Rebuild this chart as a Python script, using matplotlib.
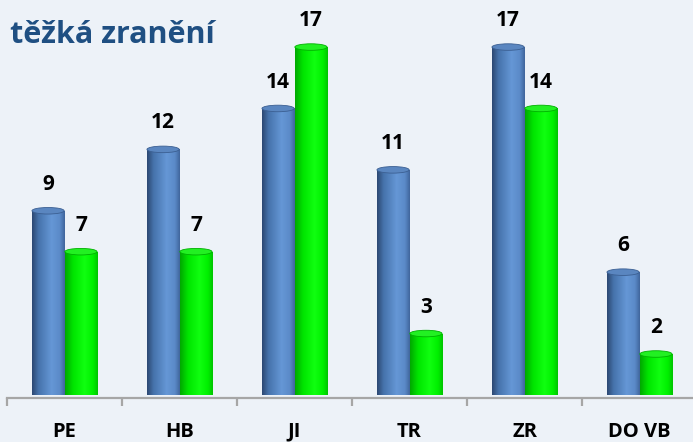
import numpy as np
import matplotlib.pyplot as plt
from matplotlib.patches import Ellipse
from matplotlib.colors import LinearSegmentedColormap

# data
categories = ['PE', 'HB', 'JI', 'TR', 'ZR', 'DO VB']
blue_values = [9, 12, 14, 11, 17, 6]
green_values = [7, 7, 17, 3, 14, 2]
title = 'těžká zranění'

plt.rcParams['font.family'] = ['Open Sans', 'DejaVu Sans']

bg = '#edf2f8'
blue_cmap = LinearSegmentedColormap.from_list(
    'cyl_blue', [(0, '#2c4872'), (0.2, '#4673ac'), (0.6, '#6597d6'), (0.85, '#5b8ac8'), (1, '#40669c')])
green_cmap = LinearSegmentedColormap.from_list(
    'cyl_green', [(0, '#00a800'), (0.25, '#00e600'), (0.6, '#10ff10'), (0.85, '#00f000'), (1, '#00c400')])

fig = plt.figure(figsize=(6.93, 4.42), dpi=100)
fig.patch.set_facecolor(bg)
ax = fig.add_axes([7 / 693, 44 / 442, 690 / 693, 398 / 442])
ax.set_facecolor('none')

x = np.arange(len(categories))
w = 0.28
off = 0.143
cap_h = 0.32  # height of the cylinder top ellipse (data units)


def cylinders(xpos, vals, cmap, cap_color, edge):
    bars = ax.bar(xpos, vals, w, color=cmap(0.6), edgecolor='none', zorder=2)
    grad = np.linspace(0, 1, 128).reshape(1, -1)
    for b in bars:
        x0, h = b.get_x(), b.get_height()
        im = ax.imshow(grad, cmap=cmap, extent=(x0, x0 + w, 0, h),
                       aspect='auto', origin='lower', zorder=2.5)
        im.set_clip_path(b)
        ax.add_patch(Ellipse((x0 + w / 2, h), w, cap_h, facecolor=cap_color,
                             edgecolor=edge, lw=0.6, zorder=3))
    for xi, v in zip(xpos, vals):
        ax.annotate(str(v), (xi, v), xytext=(0, 19), textcoords='offset points',
                    ha='center', va='center', fontsize=15, fontweight='bold', color='black')


cylinders(x - off, blue_values, blue_cmap, '#5a86c0', '#3b5f92')
cylinders(x + off, green_values, green_cmap, '#22f022', '#00b000')

ax.set_xlim(-0.5, 5.5)
ax.set_ylim(-0.15, 19.3)

for s in ['top', 'right', 'left']:
    ax.spines[s].set_visible(False)
ax.spines['bottom'].set_color('#a6a6a6')
ax.spines['bottom'].set_linewidth(1.6)

ax.set_yticks([])
ax.set_xticks(x)
ax.set_xticklabels(categories, fontsize=14.5, fontweight='bold')
ax.tick_params(axis='x', which='major', length=0, pad=17)
ax.set_xticks(np.arange(-0.5, 6, 1), minor=True)
ax.tick_params(axis='x', which='minor', length=6, width=1.6, color='#a6a6a6')

fig.text(10 / 693, 1 - 43 / 442, title, fontsize=22, fontweight='bold',
         color='#1f4f82', ha='left', va='baseline')

fig.savefig('out.png', dpi=100, facecolor=bg)
